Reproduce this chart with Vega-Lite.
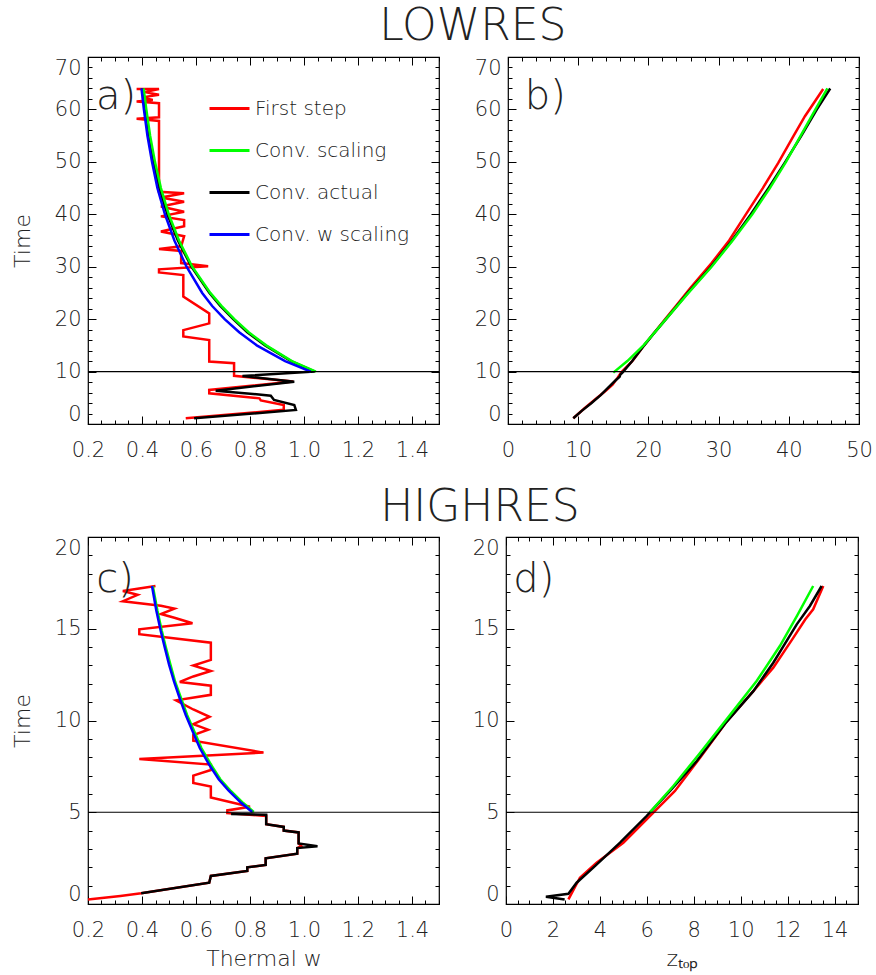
{
"$schema": "https://vega.github.io/schema/vega-lite/v6.json",
"background": "white",
"padding": {"left": 10, "top": 4, "right": 5, "bottom": 2},
"datasets": {
"a": [
{"s":"First step","i":1,"t":1.1,"v":0.562},{"s":"First step","i":2,"t":2.7,"v":0.925},{"s":"First step","i":3,"t":3.6,"v":0.925},{"s":"First step","i":4,"t":4.5,"v":0.84},{"s":"First step","i":5,"t":4.9,"v":0.835},{"s":"First step","i":6,"t":5.85,"v":0.649},{"s":"First step","i":7,"t":6.5,"v":0.649},{"s":"First step","i":8,"t":8.1,"v":0.96},{"s":"First step","i":9,"t":9.2,"v":0.741},{"s":"First step","i":10,"t":11.6,"v":0.741},{"s":"First step","i":11,"t":11.9,"v":0.649},{"s":"First step","i":12,"t":16.0,"v":0.649},{"s":"First step","i":13,"t":16.7,"v":0.553},{"s":"First step","i":14,"t":17.9,"v":0.553},{"s":"First step","i":15,"t":19.2,"v":0.649},{"s":"First step","i":16,"t":21.1,"v":0.649},{"s":"First step","i":17,"t":24.3,"v":0.553},{"s":"First step","i":18,"t":28.4,"v":0.553},{"s":"First step","i":19,"t":28.9,"v":0.463},{"s":"First step","i":20,"t":29.5,"v":0.463},{"s":"First step","i":21,"t":30.1,"v":0.645},{"s":"First step","i":22,"t":30.7,"v":0.545},{"s":"First step","i":23,"t":33.0,"v":0.545},{"s":"First step","i":24,"t":33.4,"v":0.463},{"s":"First step","i":25,"t":33.9,"v":0.545},{"s":"First step","i":26,"t":35.8,"v":0.556},{"s":"First step","i":27,"t":36.7,"v":0.47},{"s":"First step","i":28,"t":37.7,"v":0.556},{"s":"First step","i":29,"t":38.9,"v":0.556},{"s":"First step","i":30,"t":39.6,"v":0.47},{"s":"First step","i":31,"t":40.5,"v":0.556},{"s":"First step","i":32,"t":41.5,"v":0.47},{"s":"First step","i":33,"t":42.4,"v":0.556},{"s":"First step","i":34,"t":43.2,"v":0.47},{"s":"First step","i":35,"t":44.0,"v":0.556},{"s":"First step","i":36,"t":44.3,"v":0.463},{"s":"First step","i":37,"t":57.8,"v":0.463},{"s":"First step","i":38,"t":58.2,"v":0.38},{"s":"First step","i":39,"t":58.5,"v":0.463},{"s":"First step","i":40,"t":61.2,"v":0.463},{"s":"First step","i":41,"t":61.5,"v":0.38},{"s":"First step","i":42,"t":61.8,"v":0.44},{"s":"First step","i":43,"t":62.3,"v":0.40},{"s":"First step","i":44,"t":62.8,"v":0.463},{"s":"First step","i":45,"t":63.3,"v":0.41},{"s":"First step","i":46,"t":63.9,"v":0.463},{"s":"First step","i":47,"t":63.9,"v":0.38},
{"s":"Conv. actual","i":1,"t":1.08,"v":0.593},{"s":"Conv. actual","i":2,"t":2.67,"v":0.97},{"s":"Conv. actual","i":3,"t":3.63,"v":0.964},{"s":"Conv. actual","i":4,"t":4.58,"v":0.889},{"s":"Conv. actual","i":5,"t":5.41,"v":0.877},{"s":"Conv. actual","i":6,"t":6.36,"v":0.673},{"s":"Conv. actual","i":7,"t":8.08,"v":0.964},{"s":"Conv. actual","i":8,"t":9.16,"v":0.772},{"s":"Conv. actual","i":9,"t":10.0,"v":1.04},{"s":"Conv. actual","i":10,"t":12,"v":0.952},{"s":"Conv. actual","i":11,"t":15,"v":0.856},{"s":"Conv. actual","i":12,"t":17.5,"v":0.79},{"s":"Conv. actual","i":13,"t":20,"v":0.738},{"s":"Conv. actual","i":14,"t":22.5,"v":0.69},{"s":"Conv. actual","i":15,"t":25,"v":0.65},{"s":"Conv. actual","i":16,"t":30,"v":0.583},{"s":"Conv. actual","i":17,"t":35,"v":0.533},{"s":"Conv. actual","i":18,"t":40,"v":0.494},{"s":"Conv. actual","i":19,"t":45,"v":0.464},{"s":"Conv. actual","i":20,"t":50,"v":0.442},{"s":"Conv. actual","i":21,"t":55,"v":0.425},{"s":"Conv. actual","i":22,"t":60,"v":0.41},{"s":"Conv. actual","i":23,"t":64,"v":0.401},
{"s":"Conv. scaling","i":1,"t":10,"v":1.044},{"s":"Conv. scaling","i":2,"t":12,"v":0.955},{"s":"Conv. scaling","i":3,"t":15,"v":0.86},{"s":"Conv. scaling","i":4,"t":17.5,"v":0.795},{"s":"Conv. scaling","i":5,"t":20,"v":0.742},{"s":"Conv. scaling","i":6,"t":22.5,"v":0.695},{"s":"Conv. scaling","i":7,"t":25,"v":0.653},{"s":"Conv. scaling","i":8,"t":30,"v":0.586},{"s":"Conv. scaling","i":9,"t":35,"v":0.537},{"s":"Conv. scaling","i":10,"t":40,"v":0.499},{"s":"Conv. scaling","i":11,"t":45,"v":0.47},{"s":"Conv. scaling","i":12,"t":50,"v":0.448},{"s":"Conv. scaling","i":13,"t":55,"v":0.43},{"s":"Conv. scaling","i":14,"t":60,"v":0.416},{"s":"Conv. scaling","i":15,"t":64,"v":0.406},
{"s":"Conv. w scaling","i":1,"t":10,"v":1.025},{"s":"Conv. w scaling","i":2,"t":12,"v":0.93},{"s":"Conv. w scaling","i":3,"t":15,"v":0.825},{"s":"Conv. w scaling","i":4,"t":17.5,"v":0.76},{"s":"Conv. w scaling","i":5,"t":20,"v":0.706},{"s":"Conv. w scaling","i":6,"t":22.5,"v":0.66},{"s":"Conv. w scaling","i":7,"t":25,"v":0.623},{"s":"Conv. w scaling","i":8,"t":30,"v":0.565},{"s":"Conv. w scaling","i":9,"t":35,"v":0.52},{"s":"Conv. w scaling","i":10,"t":40,"v":0.485},{"s":"Conv. w scaling","i":11,"t":45,"v":0.457},{"s":"Conv. w scaling","i":12,"t":50,"v":0.437},{"s":"Conv. w scaling","i":13,"t":55,"v":0.42},{"s":"Conv. w scaling","i":14,"t":60,"v":0.407},{"s":"Conv. w scaling","i":15,"t":64,"v":0.398}
],
"b": [
{"s":"First step","i":1,"t":1.1,"v":9.3},{"s":"First step","i":2,"t":3.0,"v":10.9},{"s":"First step","i":3,"t":5.0,"v":12.7},{"s":"First step","i":4,"t":6.2,"v":13.8},{"s":"First step","i":5,"t":7.5,"v":14.9},{"s":"First step","i":6,"t":8.8,"v":15.6},{"s":"First step","i":7,"t":9.8,"v":16.1},{"s":"First step","i":8,"t":12,"v":17.7},{"s":"First step","i":9,"t":15,"v":19.4},{"s":"First step","i":10,"t":16.7,"v":20.4},{"s":"First step","i":11,"t":20,"v":22.4},{"s":"First step","i":12,"t":23,"v":24.2},{"s":"First step","i":13,"t":26,"v":26.0},{"s":"First step","i":14,"t":30.7,"v":29.0},{"s":"First step","i":15,"t":35,"v":31.5},{"s":"First step","i":16,"t":39.6,"v":33.7},{"s":"First step","i":17,"t":45,"v":36.3},{"s":"First step","i":18,"t":49.8,"v":38.5},{"s":"First step","i":19,"t":55,"v":40.7},{"s":"First step","i":20,"t":58.7,"v":42.3},{"s":"First step","i":21,"t":63.9,"v":44.9},
{"s":"Conv. actual","i":1,"t":1.1,"v":9.3},{"s":"Conv. actual","i":2,"t":2.5,"v":10.5},{"s":"Conv. actual","i":3,"t":4.0,"v":11.9},{"s":"Conv. actual","i":4,"t":5.5,"v":13.2},{"s":"Conv. actual","i":5,"t":7.0,"v":14.3},{"s":"Conv. actual","i":6,"t":8.3,"v":15.3},{"s":"Conv. actual","i":7,"t":9.0,"v":15.9},{"s":"Conv. actual","i":8,"t":9.4,"v":16.0},{"s":"Conv. actual","i":9,"t":9.8,"v":16.3},{"s":"Conv. actual","i":10,"t":12,"v":17.7},{"s":"Conv. actual","i":11,"t":15,"v":19.4},{"s":"Conv. actual","i":12,"t":17,"v":20.6},{"s":"Conv. actual","i":13,"t":20,"v":22.5},{"s":"Conv. actual","i":14,"t":25,"v":25.6},{"s":"Conv. actual","i":15,"t":30,"v":28.9},{"s":"Conv. actual","i":16,"t":35,"v":31.9},{"s":"Conv. actual","i":17,"t":40,"v":34.6},{"s":"Conv. actual","i":18,"t":45,"v":37.1},{"s":"Conv. actual","i":19,"t":50,"v":39.5},{"s":"Conv. actual","i":20,"t":55,"v":41.8},{"s":"Conv. actual","i":21,"t":60,"v":44.0},{"s":"Conv. actual","i":22,"t":64,"v":45.9},
{"s":"Conv. scaling","i":1,"t":9.8,"v":15.0},{"s":"Conv. scaling","i":2,"t":12,"v":17.0},{"s":"Conv. scaling","i":3,"t":15,"v":19.3},{"s":"Conv. scaling","i":4,"t":17,"v":20.6},{"s":"Conv. scaling","i":5,"t":20,"v":22.5},{"s":"Conv. scaling","i":6,"t":25,"v":25.7},{"s":"Conv. scaling","i":7,"t":30,"v":29.0},{"s":"Conv. scaling","i":8,"t":35,"v":32.0},{"s":"Conv. scaling","i":9,"t":40,"v":34.8},{"s":"Conv. scaling","i":10,"t":45,"v":37.3},{"s":"Conv. scaling","i":11,"t":50,"v":39.6},{"s":"Conv. scaling","i":12,"t":55,"v":41.7},{"s":"Conv. scaling","i":13,"t":60,"v":43.8},{"s":"Conv. scaling","i":14,"t":64,"v":45.5}
],
"c": [
{"s":"First step","i":1,"t":0.25,"v":0.2},{"s":"First step","i":2,"t":0.44,"v":0.32},{"s":"First step","i":3,"t":0.58,"v":0.397},{"s":"First step","i":4,"t":1.16,"v":0.649},{"s":"First step","i":5,"t":1.53,"v":0.655},{"s":"First step","i":6,"t":1.8,"v":0.79},{"s":"First step","i":7,"t":2.0,"v":0.79},{"s":"First step","i":8,"t":2.13,"v":0.858},{"s":"First step","i":9,"t":2.49,"v":0.858},{"s":"First step","i":10,"t":2.74,"v":0.975},{"s":"First step","i":11,"t":3.05,"v":0.975},{"s":"First step","i":12,"t":3.15,"v":0.99},{"s":"First step","i":13,"t":3.3,"v":0.98},{"s":"First step","i":14,"t":3.9,"v":0.98},{"s":"First step","i":15,"t":4.0,"v":0.925},{"s":"First step","i":16,"t":4.2,"v":0.925},{"s":"First step","i":17,"t":4.35,"v":0.86},{"s":"First step","i":18,"t":4.8,"v":0.86},{"s":"First step","i":19,"t":4.95,"v":0.716},{"s":"First step","i":20,"t":5.1,"v":0.716},{"s":"First step","i":21,"t":5.3,"v":0.80},{"s":"First step","i":22,"t":5.8,"v":0.655},{"s":"First step","i":23,"t":6.4,"v":0.655},{"s":"First step","i":24,"t":6.6,"v":0.59},{"s":"First step","i":25,"t":7.0,"v":0.59},{"s":"First step","i":26,"t":7.3,"v":0.655},{"s":"First step","i":27,"t":7.6,"v":0.655},{"s":"First step","i":28,"t":7.9,"v":0.39},{"s":"First step","i":29,"t":8.25,"v":0.85},{"s":"First step","i":30,"t":8.9,"v":0.59},{"s":"First step","i":31,"t":9.2,"v":0.59},{"s":"First step","i":32,"t":9.5,"v":0.645},{"s":"First step","i":33,"t":9.8,"v":0.59},{"s":"First step","i":34,"t":10.2,"v":0.65},{"s":"First step","i":35,"t":10.6,"v":0.59},{"s":"First step","i":36,"t":11.1,"v":0.526},{"s":"First step","i":37,"t":11.4,"v":0.655},{"s":"First step","i":38,"t":11.9,"v":0.655},{"s":"First step","i":39,"t":12.1,"v":0.54},{"s":"First step","i":40,"t":12.4,"v":0.59},{"s":"First step","i":41,"t":12.7,"v":0.655},{"s":"First step","i":42,"t":13.0,"v":0.59},{"s":"First step","i":43,"t":13.3,"v":0.655},{"s":"First step","i":44,"t":14.24,"v":0.655},{"s":"First step","i":45,"t":14.7,"v":0.39},{"s":"First step","i":46,"t":14.97,"v":0.39},{"s":"First step","i":47,"t":15.3,"v":0.587},{"s":"First step","i":48,"t":15.6,"v":0.52},{"s":"First step","i":49,"t":15.8,"v":0.47},{"s":"First step","i":50,"t":16.1,"v":0.52},{"s":"First step","i":51,"t":16.25,"v":0.47},{"s":"First step","i":52,"t":16.5,"v":0.329},{"s":"First step","i":53,"t":16.85,"v":0.384},{"s":"First step","i":54,"t":17.06,"v":0.329},{"s":"First step","i":55,"t":17.33,"v":0.45},
{"s":"Conv. actual","i":1,"t":0.58,"v":0.397},{"s":"Conv. actual","i":2,"t":1.16,"v":0.649},{"s":"Conv. actual","i":3,"t":1.53,"v":0.655},{"s":"Conv. actual","i":4,"t":1.8,"v":0.79},{"s":"Conv. actual","i":5,"t":2.0,"v":0.79},{"s":"Conv. actual","i":6,"t":2.13,"v":0.858},{"s":"Conv. actual","i":7,"t":2.49,"v":0.858},{"s":"Conv. actual","i":8,"t":2.74,"v":0.975},{"s":"Conv. actual","i":9,"t":3.05,"v":0.975},{"s":"Conv. actual","i":10,"t":3.15,"v":1.05},{"s":"Conv. actual","i":11,"t":3.3,"v":0.98},{"s":"Conv. actual","i":12,"t":3.9,"v":0.98},{"s":"Conv. actual","i":13,"t":4.0,"v":0.925},{"s":"Conv. actual","i":14,"t":4.2,"v":0.925},{"s":"Conv. actual","i":15,"t":4.35,"v":0.86},{"s":"Conv. actual","i":16,"t":4.86,"v":0.86},{"s":"Conv. actual","i":17,"t":4.9,"v":0.73},
{"s":"Conv. scaling","i":1,"t":5.01,"v":0.814},{"s":"Conv. scaling","i":2,"t":5.5,"v":0.775},{"s":"Conv. scaling","i":3,"t":6.16,"v":0.729},{"s":"Conv. scaling","i":4,"t":6.8,"v":0.69},{"s":"Conv. scaling","i":5,"t":7.61,"v":0.655},{"s":"Conv. scaling","i":6,"t":8.5,"v":0.62},{"s":"Conv. scaling","i":7,"t":9.43,"v":0.593},{"s":"Conv. scaling","i":8,"t":10.3,"v":0.567},{"s":"Conv. scaling","i":9,"t":11.24,"v":0.544},{"s":"Conv. scaling","i":10,"t":12.1,"v":0.523},{"s":"Conv. scaling","i":11,"t":13.06,"v":0.505},{"s":"Conv. scaling","i":12,"t":14.0,"v":0.488},{"s":"Conv. scaling","i":13,"t":14.9,"v":0.473},{"s":"Conv. scaling","i":14,"t":16.0,"v":0.457},{"s":"Conv. scaling","i":15,"t":17.33,"v":0.44},
{"s":"Conv. w scaling","i":1,"t":5.01,"v":0.808},{"s":"Conv. w scaling","i":2,"t":5.5,"v":0.768},{"s":"Conv. w scaling","i":3,"t":6.16,"v":0.722},{"s":"Conv. w scaling","i":4,"t":6.8,"v":0.684},{"s":"Conv. w scaling","i":5,"t":7.61,"v":0.648},{"s":"Conv. w scaling","i":6,"t":8.5,"v":0.614},{"s":"Conv. w scaling","i":7,"t":9.43,"v":0.587},{"s":"Conv. w scaling","i":8,"t":10.3,"v":0.562},{"s":"Conv. w scaling","i":9,"t":11.24,"v":0.539},{"s":"Conv. w scaling","i":10,"t":12.1,"v":0.519},{"s":"Conv. w scaling","i":11,"t":13.06,"v":0.50},{"s":"Conv. w scaling","i":12,"t":14.0,"v":0.484},{"s":"Conv. w scaling","i":13,"t":14.9,"v":0.469},{"s":"Conv. w scaling","i":14,"t":16.0,"v":0.453},{"s":"Conv. w scaling","i":15,"t":17.33,"v":0.437}
],
"d": [
{"s":"First step","i":1,"t":0.25,"v":2.66},{"s":"First step","i":2,"t":1.43,"v":3.15},{"s":"First step","i":3,"t":2.25,"v":3.86},{"s":"First step","i":4,"t":3.34,"v":5.0},{"s":"First step","i":5,"t":4.98,"v":6.28},{"s":"First step","i":6,"t":6.16,"v":7.2},{"s":"First step","i":7,"t":7.97,"v":8.27},{"s":"First step","i":8,"t":9.97,"v":9.42},{"s":"First step","i":9,"t":11.6,"v":10.54},{"s":"First step","i":10,"t":12.88,"v":11.39},{"s":"First step","i":11,"t":14.5,"v":12.24},{"s":"First step","i":12,"t":15.5,"v":12.75},{"s":"First step","i":13,"t":16.06,"v":13.09},{"s":"First step","i":14,"t":17.33,"v":13.52},
{"s":"Conv. actual","i":1,"t":0.25,"v":2.5},{"s":"Conv. actual","i":2,"t":0.4,"v":1.7},{"s":"Conv. actual","i":3,"t":0.56,"v":2.66},{"s":"Conv. actual","i":4,"t":1.16,"v":3.01},{"s":"Conv. actual","i":5,"t":1.98,"v":3.72},{"s":"Conv. actual","i":6,"t":3.34,"v":4.86},{"s":"Conv. actual","i":7,"t":4.8,"v":6.0},{"s":"Conv. actual","i":8,"t":6.16,"v":6.99},{"s":"Conv. actual","i":9,"t":7.79,"v":8.13},{"s":"Conv. actual","i":10,"t":9.9,"v":9.38},{"s":"Conv. actual","i":11,"t":11.6,"v":10.54},{"s":"Conv. actual","i":12,"t":13.15,"v":11.39},{"s":"Conv. actual","i":13,"t":15.24,"v":12.39},{"s":"Conv. actual","i":14,"t":16.24,"v":12.95},{"s":"Conv. actual","i":15,"t":17.33,"v":13.45},
{"s":"Conv. scaling","i":1,"t":5.01,"v":6.14},{"s":"Conv. scaling","i":2,"t":6.43,"v":7.13},{"s":"Conv. scaling","i":3,"t":8.2,"v":8.25},{"s":"Conv. scaling","i":4,"t":10.06,"v":9.40},{"s":"Conv. scaling","i":5,"t":12.15,"v":10.68},{"s":"Conv. scaling","i":6,"t":14.06,"v":11.67},{"s":"Conv. scaling","i":7,"t":15.7,"v":12.4},{"s":"Conv. scaling","i":8,"t":17.33,"v":13.09}
],
"la": [{"label":"a)","x":0.23,"t":60}],
"lb": [{"label":"b)","x":2.4,"t":60}],
"lc": [{"label":"c)","x":0.231,"t":17.0}],
"ld": [{"label":"d)","x":0.31,"t":17.0}],
"ra": [{"t":10}],
"rc": [{"t":5}]
},
"spacing": 24,
"resolve": {"scale": {"color": "independent"}, "legend": {"color": "independent"}},
"vconcat": [
{
"title": {"text": "LOWRES", "offset": 7, "dx": 31},
"spacing": 32,
"resolve": {"scale": {"color": "independent"}, "legend": {"color": "independent"}},
"hconcat": [
{
"width": 351, "height": 367,
"resolve": {"axis": {"x": "independent", "y": "independent"}},
"layer": [
{"data": {"name": "a"}, "mark": {"type": "line", "strokeWidth": 2.5},
"encoding": {
"x": {"field": "v", "type": "quantitative", "scale": {"domain": [0.2, 1.5], "nice": false, "zero": false},
"axis": {"orient": "bottom", "title": null, "ticks": true, "values": [0.2,0.4,0.6,0.8,1.0,1.2,1.4], "format": ".1f", "offset": -8, "tickSize": 8, "labelPadding": 15, "labelFlush": false}},
"y": {"field": "t", "type": "quantitative", "scale": {"domain": [0, 70], "nice": false, "zero": false},
"axis": {"orient": "left", "title": "Time", "titlePadding": 20, "ticks": true, "values": [0,10,20,30,40,50,60,70], "offset": -8, "tickSize": 8, "labelPadding": 7, "labelFlush": true, "labelFlushOffset": 0}},
"color": {"field": "s", "type": "nominal", "scale": {"domain": ["First step","Conv. scaling","Conv. actual","Conv. w scaling"], "range": ["#ff0000","#00ff00","#000000","#0000ff"]},
"legend": {"orient": "none", "legendX": 120, "legendY": 30, "title": null, "symbolType": "stroke", "symbolSize": 1600, "symbolStrokeWidth": 3, "labelOffset": 4, "rowPadding": 10}},
"order": {"field": "i", "type": "quantitative"}
}},
{"data": {"name": "ra"}, "mark": {"type": "rule", "color": "#000000", "strokeWidth": 1.2},
"encoding": {"y": {"field": "t", "type": "quantitative", "scale": {"domain": [0, 70], "nice": false, "zero": false}, "axis": null}}},
{"data": {"name": "la"}, "mark": {"type": "text", "align": "left", "baseline": "alphabetic", "fontSize": 40, "fontWeight": 200, "color": "#222222"},
"encoding": {
"x": {"field": "x", "type": "quantitative", "scale": {"domain": [0.2, 1.5], "nice": false, "zero": false},
"axis": {"orient": "top", "title": null, "labels": false, "ticks": true, "values": [0.2,0.4,0.6,0.8,1.0,1.2,1.4], "offset": -8, "tickSize": 8}},
"y": {"field": "t", "type": "quantitative", "scale": {"domain": [0, 70], "nice": false, "zero": false},
"axis": {"orient": "right", "title": null, "labels": false, "ticks": true, "values": [0,10,20,30,40,50,60,70], "offset": -8, "tickSize": 8}},
"text": {"field": "label"}
}},
{"data": {"name": "la"}, "mark": {"type": "point", "opacity": 0},
"encoding": {
"x": {"field": "x", "type": "quantitative", "scale": {"domain": [0.2, 1.5], "nice": false, "zero": false},
"axis": {"orient": "bottom", "title": null, "labels": false, "ticks": true, "values": [0.2,0.25,0.3,0.35,0.4,0.45,0.5,0.55,0.6,0.65,0.7,0.75,0.8,0.85,0.9,0.95,1.0,1.05,1.1,1.15,1.2,1.25,1.3,1.35,1.4,1.45,1.5], "offset": -4, "tickSize": 4}},
"y": {"field": "t", "type": "quantitative", "scale": {"domain": [0, 70], "nice": false, "zero": false},
"axis": {"orient": "left", "title": null, "labels": false, "ticks": true, "values": [0,2,4,6,8,10,12,14,16,18,20,22,24,26,28,30,32,34,36,38,40,42,44,46,48,50,52,54,56,58,60,62,64,66,68,70], "offset": -4, "tickSize": 4}}
}},
{"data": {"name": "la"}, "mark": {"type": "point", "opacity": 0},
"encoding": {
"x": {"field": "x", "type": "quantitative", "scale": {"domain": [0.2, 1.5], "nice": false, "zero": false},
"axis": {"orient": "top", "title": null, "labels": false, "ticks": true, "values": [0.2,0.25,0.3,0.35,0.4,0.45,0.5,0.55,0.6,0.65,0.7,0.75,0.8,0.85,0.9,0.95,1.0,1.05,1.1,1.15,1.2,1.25,1.3,1.35,1.4,1.45,1.5], "offset": -4, "tickSize": 4}},
"y": {"field": "t", "type": "quantitative", "scale": {"domain": [0, 70], "nice": false, "zero": false},
"axis": {"orient": "right", "title": null, "labels": false, "ticks": true, "values": [0,2,4,6,8,10,12,14,16,18,20,22,24,26,28,30,32,34,36,38,40,42,44,46,48,50,52,54,56,58,60,62,64,66,68,70], "offset": -4, "tickSize": 4}}
}}
]
},
{
"width": 351, "height": 367,
"resolve": {"axis": {"x": "independent", "y": "independent"}},
"layer": [
{"data": {"name": "b"}, "mark": {"type": "line", "strokeWidth": 2.5},
"encoding": {
"x": {"field": "v", "type": "quantitative", "scale": {"domain": [0, 50], "nice": false, "zero": false},
"axis": {"orient": "bottom", "title": null, "ticks": true, "values": [0,10,20,30,40,50], "format": "d", "offset": -8, "tickSize": 8, "labelPadding": 15, "labelFlush": false}},
"y": {"field": "t", "type": "quantitative", "scale": {"domain": [0, 70], "nice": false, "zero": false},
"axis": {"orient": "left", "title": null, "ticks": true, "values": [0,10,20,30,40,50,60,70], "offset": -8, "tickSize": 8, "labelPadding": 7, "labelFlush": true, "labelFlushOffset": 0}},
"color": {"field": "s", "type": "nominal", "scale": {"domain": ["First step","Conv. scaling","Conv. actual","Conv. w scaling"], "range": ["#ff0000","#00ff00","#000000","#0000ff"]}, "legend": null},
"order": {"field": "i", "type": "quantitative"}
}},
{"data": {"name": "ra"}, "mark": {"type": "rule", "color": "#000000", "strokeWidth": 1.2},
"encoding": {"y": {"field": "t", "type": "quantitative", "scale": {"domain": [0, 70], "nice": false, "zero": false}, "axis": null}}},
{"data": {"name": "lb"}, "mark": {"type": "text", "align": "left", "baseline": "alphabetic", "fontSize": 40, "fontWeight": 200, "color": "#222222"},
"encoding": {
"x": {"field": "x", "type": "quantitative", "scale": {"domain": [0, 50], "nice": false, "zero": false},
"axis": {"orient": "top", "title": null, "labels": false, "ticks": true, "values": [0,10,20,30,40,50], "offset": -8, "tickSize": 8}},
"y": {"field": "t", "type": "quantitative", "scale": {"domain": [0, 70], "nice": false, "zero": false},
"axis": {"orient": "right", "title": null, "labels": false, "ticks": true, "values": [0,10,20,30,40,50,60,70], "offset": -8, "tickSize": 8}},
"text": {"field": "label"}
}},
{"data": {"name": "lb"}, "mark": {"type": "point", "opacity": 0},
"encoding": {
"x": {"field": "x", "type": "quantitative", "scale": {"domain": [0, 50], "nice": false, "zero": false},
"axis": {"orient": "bottom", "title": null, "labels": false, "ticks": true, "values": [0,2,4,6,8,10,12,14,16,18,20,22,24,26,28,30,32,34,36,38,40,42,44,46,48,50], "offset": -4, "tickSize": 4}},
"y": {"field": "t", "type": "quantitative", "scale": {"domain": [0, 70], "nice": false, "zero": false},
"axis": {"orient": "left", "title": null, "labels": false, "ticks": true, "values": [0,2,4,6,8,10,12,14,16,18,20,22,24,26,28,30,32,34,36,38,40,42,44,46,48,50,52,54,56,58,60,62,64,66,68,70], "offset": -4, "tickSize": 4}}
}},
{"data": {"name": "lb"}, "mark": {"type": "point", "opacity": 0},
"encoding": {
"x": {"field": "x", "type": "quantitative", "scale": {"domain": [0, 50], "nice": false, "zero": false},
"axis": {"orient": "top", "title": null, "labels": false, "ticks": true, "values": [0,2,4,6,8,10,12,14,16,18,20,22,24,26,28,30,32,34,36,38,40,42,44,46,48,50], "offset": -4, "tickSize": 4}},
"y": {"field": "t", "type": "quantitative", "scale": {"domain": [0, 70], "nice": false, "zero": false},
"axis": {"orient": "right", "title": null, "labels": false, "ticks": true, "values": [0,2,4,6,8,10,12,14,16,18,20,22,24,26,28,30,32,34,36,38,40,42,44,46,48,50,52,54,56,58,60,62,64,66,68,70], "offset": -4, "tickSize": 4}}
}}
]
}
]
},
{
"title": {"text": "HIGHRES", "offset": 6, "dx": 45},
"spacing": 30,
"resolve": {"scale": {"color": "independent"}, "legend": {"color": "independent"}},
"hconcat": [
{
"width": 351, "height": 367,
"resolve": {"axis": {"x": "independent", "y": "independent"}},
"layer": [
{"data": {"name": "c"}, "mark": {"type": "line", "strokeWidth": 2.5},
"encoding": {
"x": {"field": "v", "type": "quantitative", "scale": {"domain": [0.2, 1.5], "nice": false, "zero": false},
"axis": {"orient": "bottom", "title": "Thermal w", "titlePadding": 8, "ticks": true, "values": [0.2,0.4,0.6,0.8,1.0,1.2,1.4], "format": ".1f", "offset": -8, "tickSize": 8, "labelPadding": 15, "labelFlush": false}},
"y": {"field": "t", "type": "quantitative", "scale": {"domain": [0, 20], "nice": false, "zero": false},
"axis": {"orient": "left", "title": "Time", "titlePadding": 20, "ticks": true, "values": [0,5,10,15,20], "offset": -8, "tickSize": 8, "labelPadding": 7, "labelFlush": true, "labelFlushOffset": 0}},
"color": {"field": "s", "type": "nominal", "scale": {"domain": ["First step","Conv. scaling","Conv. actual","Conv. w scaling"], "range": ["#ff0000","#00ff00","#000000","#0000ff"]}, "legend": null},
"order": {"field": "i", "type": "quantitative"}
}},
{"data": {"name": "rc"}, "mark": {"type": "rule", "color": "#000000", "strokeWidth": 1.2},
"encoding": {"y": {"field": "t", "type": "quantitative", "scale": {"domain": [0, 20], "nice": false, "zero": false}, "axis": null}}},
{"data": {"name": "lc"}, "mark": {"type": "text", "align": "left", "baseline": "alphabetic", "fontSize": 40, "fontWeight": 200, "color": "#222222"},
"encoding": {
"x": {"field": "x", "type": "quantitative", "scale": {"domain": [0.2, 1.5], "nice": false, "zero": false},
"axis": {"orient": "top", "title": null, "labels": false, "ticks": true, "values": [0.2,0.4,0.6,0.8,1.0,1.2,1.4], "offset": -8, "tickSize": 8}},
"y": {"field": "t", "type": "quantitative", "scale": {"domain": [0, 20], "nice": false, "zero": false},
"axis": {"orient": "right", "title": null, "labels": false, "ticks": true, "values": [0,5,10,15,20], "offset": -8, "tickSize": 8}},
"text": {"field": "label"}
}},
{"data": {"name": "lc"}, "mark": {"type": "point", "opacity": 0},
"encoding": {
"x": {"field": "x", "type": "quantitative", "scale": {"domain": [0.2, 1.5], "nice": false, "zero": false},
"axis": {"orient": "bottom", "title": null, "labels": false, "ticks": true, "values": [0.2,0.25,0.3,0.35,0.4,0.45,0.5,0.55,0.6,0.65,0.7,0.75,0.8,0.85,0.9,0.95,1.0,1.05,1.1,1.15,1.2,1.25,1.3,1.35,1.4,1.45,1.5], "offset": -4, "tickSize": 4}},
"y": {"field": "t", "type": "quantitative", "scale": {"domain": [0, 20], "nice": false, "zero": false},
"axis": {"orient": "left", "title": null, "labels": false, "ticks": true, "values": [0,1,2,3,4,5,6,7,8,9,10,11,12,13,14,15,16,17,18,19,20], "offset": -4, "tickSize": 4}}
}},
{"data": {"name": "lc"}, "mark": {"type": "point", "opacity": 0},
"encoding": {
"x": {"field": "x", "type": "quantitative", "scale": {"domain": [0.2, 1.5], "nice": false, "zero": false},
"axis": {"orient": "top", "title": null, "labels": false, "ticks": true, "values": [0.2,0.25,0.3,0.35,0.4,0.45,0.5,0.55,0.6,0.65,0.7,0.75,0.8,0.85,0.9,0.95,1.0,1.05,1.1,1.15,1.2,1.25,1.3,1.35,1.4,1.45,1.5], "offset": -4, "tickSize": 4}},
"y": {"field": "t", "type": "quantitative", "scale": {"domain": [0, 20], "nice": false, "zero": false},
"axis": {"orient": "right", "title": null, "labels": false, "ticks": true, "values": [0,1,2,3,4,5,6,7,8,9,10,11,12,13,14,15,16,17,18,19,20], "offset": -4, "tickSize": 4}}
}}
]
},
{
"width": 352, "height": 367,
"resolve": {"axis": {"x": "independent", "y": "independent"}},
"layer": [
{"data": {"name": "d"}, "mark": {"type": "line", "strokeWidth": 2.5},
"encoding": {
"x": {"field": "v", "type": "quantitative", "scale": {"domain": [0, 15], "nice": false, "zero": false},
"axis": {"orient": "bottom", "title": "zₜₒₚ", "titlePadding": 8, "ticks": true, "values": [0,2,4,6,8,10,12,14], "format": "d", "offset": -8, "tickSize": 8, "labelPadding": 15, "labelFlush": false}},
"y": {"field": "t", "type": "quantitative", "scale": {"domain": [0, 20], "nice": false, "zero": false},
"axis": {"orient": "left", "title": null, "ticks": true, "values": [0,5,10,15,20], "offset": -8, "tickSize": 8, "labelPadding": 7, "labelFlush": true, "labelFlushOffset": 0}},
"color": {"field": "s", "type": "nominal", "scale": {"domain": ["First step","Conv. scaling","Conv. actual","Conv. w scaling"], "range": ["#ff0000","#00ff00","#000000","#0000ff"]}, "legend": null},
"order": {"field": "i", "type": "quantitative"}
}},
{"data": {"name": "rc"}, "mark": {"type": "rule", "color": "#000000", "strokeWidth": 1.2},
"encoding": {"y": {"field": "t", "type": "quantitative", "scale": {"domain": [0, 20], "nice": false, "zero": false}, "axis": null}}},
{"data": {"name": "ld"}, "mark": {"type": "text", "align": "left", "baseline": "alphabetic", "fontSize": 40, "fontWeight": 200, "color": "#222222"},
"encoding": {
"x": {"field": "x", "type": "quantitative", "scale": {"domain": [0, 15], "nice": false, "zero": false},
"axis": {"orient": "top", "title": null, "labels": false, "ticks": true, "values": [0,2,4,6,8,10,12,14], "offset": -8, "tickSize": 8}},
"y": {"field": "t", "type": "quantitative", "scale": {"domain": [0, 20], "nice": false, "zero": false},
"axis": {"orient": "right", "title": null, "labels": false, "ticks": true, "values": [0,5,10,15,20], "offset": -8, "tickSize": 8}},
"text": {"field": "label"}
}},
{"data": {"name": "ld"}, "mark": {"type": "point", "opacity": 0},
"encoding": {
"x": {"field": "x", "type": "quantitative", "scale": {"domain": [0, 15], "nice": false, "zero": false},
"axis": {"orient": "bottom", "title": null, "labels": false, "ticks": true, "values": [0,0.5,1,1.5,2,2.5,3,3.5,4,4.5,5,5.5,6,6.5,7,7.5,8,8.5,9,9.5,10,10.5,11,11.5,12,12.5,13,13.5,14,14.5,15], "offset": -4, "tickSize": 4}},
"y": {"field": "t", "type": "quantitative", "scale": {"domain": [0, 20], "nice": false, "zero": false},
"axis": {"orient": "left", "title": null, "labels": false, "ticks": true, "values": [0,1,2,3,4,5,6,7,8,9,10,11,12,13,14,15,16,17,18,19,20], "offset": -4, "tickSize": 4}}
}},
{"data": {"name": "ld"}, "mark": {"type": "point", "opacity": 0},
"encoding": {
"x": {"field": "x", "type": "quantitative", "scale": {"domain": [0, 15], "nice": false, "zero": false},
"axis": {"orient": "top", "title": null, "labels": false, "ticks": true, "values": [0,0.5,1,1.5,2,2.5,3,3.5,4,4.5,5,5.5,6,6.5,7,7.5,8,8.5,9,9.5,10,10.5,11,11.5,12,12.5,13,13.5,14,14.5,15], "offset": -4, "tickSize": 4}},
"y": {"field": "t", "type": "quantitative", "scale": {"domain": [0, 20], "nice": false, "zero": false},
"axis": {"orient": "right", "title": null, "labels": false, "ticks": true, "values": [0,1,2,3,4,5,6,7,8,9,10,11,12,13,14,15,16,17,18,19,20], "offset": -4, "tickSize": 4}}
}}
]
}
]
}
],
"config": {
"font": "DejaVu Sans",
"view": {"stroke": "#000000", "strokeWidth": 1.2},
"axis": {"domain": false, "grid": false, "ticks": true, "labelFont": "DejaVu Sans", "labelFontSize": 21, "labelFontWeight": 200, "labelColor": "#222222", "tickColor": "#000000", "tickWidth": 1, "tickOpacity": 1, "titleFont": "DejaVu Sans", "titleFontSize": 22, "titleFontWeight": 200, "titleColor": "#222222", "labelOverlap": false},
"legend": {"labelFont": "DejaVu Sans", "labelFontSize": 20, "labelFontWeight": 200, "labelColor": "#222222"},
"title": {"font": "DejaVu Sans", "fontSize": 44, "fontWeight": 200, "color": "#222222", "anchor": "middle"}
}
}
